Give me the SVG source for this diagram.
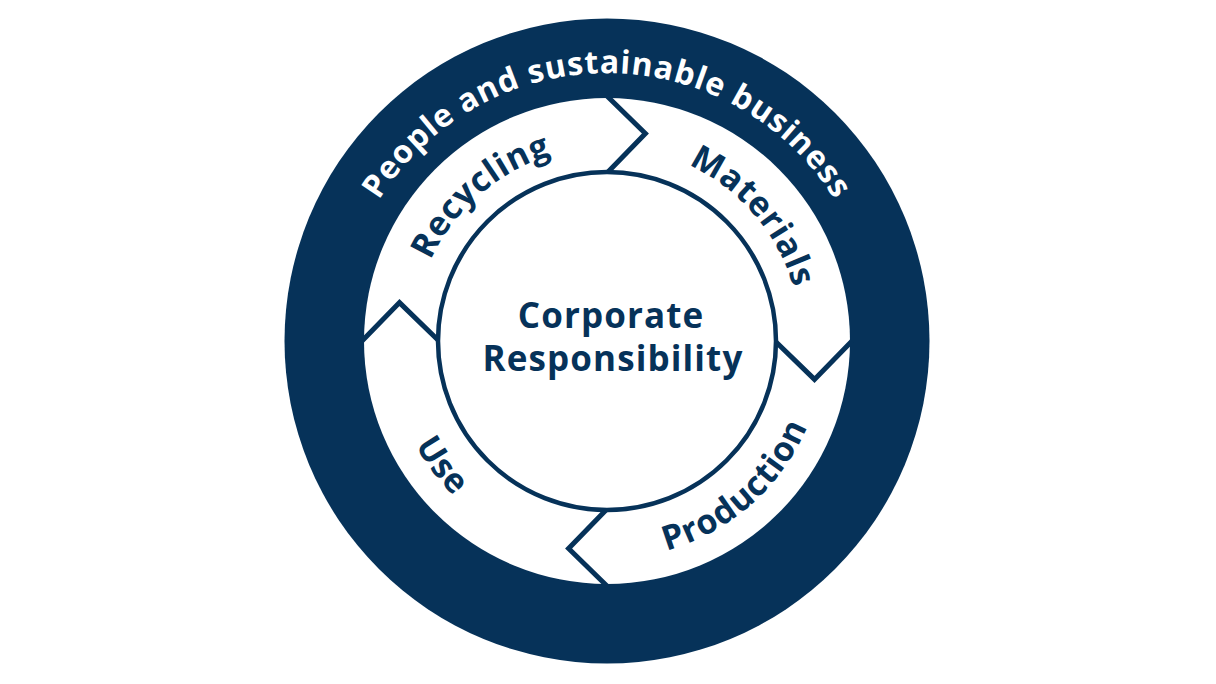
<svg xmlns="http://www.w3.org/2000/svg" xmlns:xlink="http://www.w3.org/1999/xlink" width="1216" height="684" viewBox="0 0 1216 684">
  <style>
    .navy { fill: #063259; }
    .lbl { font-family: "Open Sans", "Liberation Sans", sans-serif; font-weight: 700; fill: #063259; }
    .outer { font-family: "Open Sans", "Liberation Sans", sans-serif; font-weight: 700; fill: #ffffff; font-size: 32px; letter-spacing: 0.9px; }
    .seg { font-size: 34px; letter-spacing: 0.7px; }
    .center { font-size: 35px; letter-spacing: 1.1px; }
    .div { fill: none; stroke: #063259; stroke-width: 5; stroke-linejoin: miter; }
  </style>
  <defs>
    <path id="outerArc" d="M 339,341 A 268 268 0 0 1 875,341"/>
    <path id="cwArc" d="M 413,341 A 194 194 0 0 1 801,341"/>
    <path id="ccwArc" d="M 389,341 A 218 218 0 0 0 825,341"/>
  </defs>
  <rect width="1216" height="684" fill="#ffffff"/>

  <g id="ring">
    <circle cx="607" cy="341" r="322.5" class="navy"/>
    <circle cx="607" cy="341" r="243" fill="#ffffff"/>
    <text class="outer" text-anchor="middle"><textPath href="#outerArc" startOffset="50%">People and sustainable business</textPath></text>
  </g>

  <g id="dividers">
    <polyline class="div" points="607,96 645.4,133.5 607,173"/>
    <polyline class="div" points="852,341 814.5,379.4 775,341"/>
    <polyline class="div" points="607,586 568.6,548.5 607,509"/>
    <polyline class="div" points="362,341 399.5,302.6 439,341"/>
  </g>

  <g id="recycling">
    <text class="lbl seg" text-anchor="middle" transform="rotate(-41 607 341)"><textPath href="#cwArc" startOffset="50%">Recycling</textPath></text>
  </g>
  <g id="materials">
    <text class="lbl seg" text-anchor="middle" transform="rotate(49.5 607 341)"><textPath href="#cwArc" startOffset="50%">Materials</textPath></text>
  </g>
  <g id="production">
    <text class="lbl seg" text-anchor="middle" transform="rotate(-41.4 607 341)"><textPath href="#ccwArc" startOffset="50%">Production</textPath></text>
  </g>
  <g id="use">
    <text class="lbl seg" text-anchor="middle" transform="rotate(53 607 341)"><textPath href="#ccwArc" startOffset="50%">Use</textPath></text>
  </g>

  <g id="core">
    <circle cx="607" cy="341" r="169" fill="#ffffff" stroke="#063259" stroke-width="4.5"/>
    <text class="lbl center" text-anchor="middle" x="611" y="328">Corporate</text>
    <text class="lbl center" text-anchor="middle" x="613" y="371">Responsibility</text>
  </g>
</svg>
